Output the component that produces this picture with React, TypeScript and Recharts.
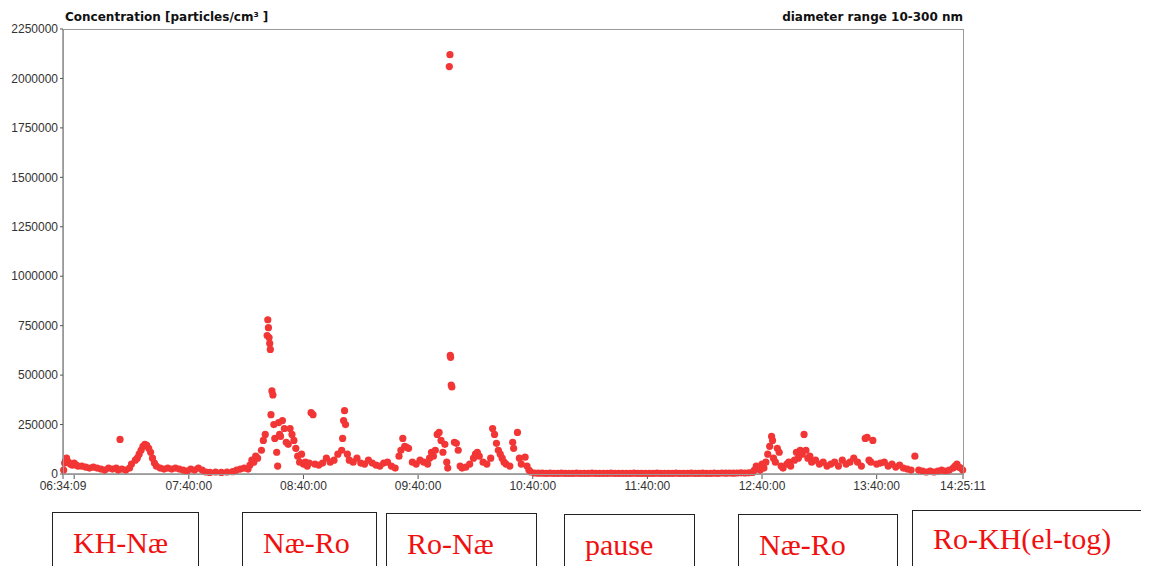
import React from "react";
import { ScatterChart, Scatter, XAxis, YAxis } from "recharts";

// [time, concentration in thousands particles/cm3]
const khToNae: [string, number][] = [
  ["06:34:30", 20], ["06:35", 55], ["06:35:30", 65], ["06:36", 80], ["06:37", 60], ["06:38", 50], ["06:39", 45],
  ["06:40", 55], ["06:41", 45], ["06:42", 40], ["06:44", 40], ["06:46", 35], ["06:48", 30], ["06:50", 35],
  ["06:52", 30], ["06:54", 25], ["06:56", 20], ["06:58", 30], ["07:00", 25], ["07:02", 30], ["07:03", 20],
  ["07:04", 175], ["07:05", 25], ["07:07", 20], ["07:09", 30], ["07:10", 50], ["07:12", 70], ["07:13", 80],
  ["07:14", 100], ["07:15", 120], ["07:16", 140], ["07:17", 150], ["07:18", 145], ["07:19", 130], ["07:20", 110],
  ["07:21", 80], ["07:22", 55], ["07:23", 40], ["07:25", 30], ["07:27", 25], ["07:29", 30], ["07:31", 25],
  ["07:33", 30], ["07:35", 25], ["07:37", 20], ["07:39", 15], ["07:41", 25], ["07:43", 20], ["07:45", 30],
  ["07:47", 20], ["07:49", 10],
];

const naeToRo1: [string, number][] = [
  ["07:51", 8], ["07:54", 10], ["07:57", 8], ["08:00", 10], ["08:03", 12], ["08:05", 20], ["08:07", 25],
  ["08:09", 30], ["08:11", 25], ["08:12", 45], ["08:13", 70], ["08:14", 60], ["08:15", 90], ["08:16", 80],
  ["08:18", 120], ["08:19", 170], ["08:20", 200], ["08:21", 700], ["08:21:20", 780], ["08:21:40", 740],
  ["08:22", 690], ["08:22:20", 660], ["08:22:40", 630], ["08:23", 300], ["08:23:30", 420], ["08:24", 400],
  ["08:24:30", 250], ["08:25", 180], ["08:26", 110], ["08:26:30", 40], ["08:27", 260], ["08:27:30", 200],
  ["08:28", 190], ["08:29", 270], ["08:30", 230], ["08:31", 160], ["08:32", 150], ["08:33", 230], ["08:34", 200],
  ["08:35", 170], ["08:36", 130], ["08:37", 90], ["08:38", 60], ["08:39", 100], ["08:40", 50],
  ["08:41", 60], ["08:42", 40], ["08:43", 55], ["08:44", 310], ["08:45", 300], ["08:46", 50], ["08:48", 45],
  ["08:50", 55], ["08:52", 80], ["08:54", 60], ["08:56", 70], ["08:58", 100], ["09:00", 120], ["09:00:30", 180],
  ["09:01", 270], ["09:01:30", 320], ["09:02", 250], ["09:03", 100], ["09:04", 70], ["09:06", 60], ["09:08", 80],
  ["09:10", 55], ["09:12", 50], ["09:14", 70], ["09:16", 55], ["09:18", 45], ["09:20", 40],
];

const roToNae: [string, number][] = [
  ["09:22", 55], ["09:24", 60], ["09:26", 40], ["09:28", 30], ["09:30", 90], ["09:31", 120], ["09:32", 180],
  ["09:33", 140], ["09:34", 135], ["09:35", 130], ["09:37", 60], ["09:39", 50], ["09:41", 70], ["09:43", 60],
  ["09:45", 50], ["09:46", 80], ["09:47", 110], ["09:48", 90], ["09:49", 120], ["09:50", 200], ["09:51", 210],
  ["09:52", 170], ["09:53", 110], ["09:54", 150], ["09:55", 60], ["09:55:30", 30], ["09:56:20", 2060],
  ["09:56:40", 2120], ["09:56:50", 600], ["09:57", 590], ["09:57:20", 450], ["09:57:40", 440], ["09:59", 160],
  ["10:00", 155], ["10:01", 120], ["10:02", 40], ["10:03", 30], ["10:05", 35], ["10:07", 50], ["10:09", 80],
  ["10:10", 100], ["10:11", 110], ["10:12", 90], ["10:14", 60], ["10:16", 50], ["10:18", 80], ["10:19", 230],
  ["10:20", 200], ["10:21", 155], ["10:22", 120], ["10:23", 100], ["10:24", 80], ["10:25", 60], ["10:26", 50],
  ["10:28", 40], ["10:29:30", 160], ["10:30", 130], ["10:32", 210], ["10:33", 80], ["10:34", 50], ["10:36", 85],
  ["10:37", 40], ["10:38", 20], ["10:39", 10],
];

const pause: [string, number][] = [
  ["10:41", 5], ["10:43", 4], ["10:45", 4], ["10:47", 3], ["10:49", 4], ["10:51", 3], ["10:53", 3], ["10:55", 4],
  ["10:57", 3], ["10:59", 3], ["11:01", 3], ["11:03", 4], ["11:05", 3], ["11:07", 3], ["11:09", 3], ["11:11", 4],
  ["11:13", 3], ["11:15", 3], ["11:17", 3], ["11:19", 3], ["11:21", 4], ["11:23", 3], ["11:25", 3], ["11:27", 3],
  ["11:29", 3], ["11:31", 3], ["11:33", 4], ["11:35", 3], ["11:37", 3], ["11:39", 3], ["11:41", 3], ["11:43", 3],
  ["11:45", 4], ["11:47", 3], ["11:49", 3], ["11:51", 3], ["11:53", 3], ["11:55", 4], ["11:57", 3], ["11:59", 3],
  ["12:01", 3], ["12:03", 4], ["12:05", 3], ["12:07", 3], ["12:09", 4], ["12:11", 3], ["12:13", 3], ["12:15", 4],
  ["12:17", 3], ["12:19", 5], ["12:21", 4], ["12:23", 5], ["12:25", 4], ["12:27", 5], ["12:29", 6], ["12:31", 5],
  ["12:33", 6], ["12:35", 8],
];

const naeToRo2: [string, number][] = [
  ["12:36", 20], ["12:37", 40], ["12:38", 30], ["12:39", 20], ["12:40", 50], ["12:41", 30], ["12:42", 60],
  ["12:43", 100], ["12:44", 140], ["12:45", 190], ["12:45:30", 170], ["12:46", 80], ["12:47", 60], ["12:48", 130],
  ["12:49", 110], ["12:50", 40], ["12:51", 30], ["12:53", 50], ["12:54", 60], ["12:55", 40], ["12:57", 70],
  ["12:58", 110], ["12:59", 80], ["13:00", 120], ["13:01", 100], ["13:02", 200], ["13:03", 120], ["13:04", 80],
  ["13:05", 90], ["13:06", 60], ["13:08", 70], ["13:10", 50], ["13:12", 60], ["13:14", 40], ["13:16", 50],
  ["13:18", 60], ["13:20", 40], ["13:22", 70], ["13:24", 50], ["13:26", 60], ["13:28", 80], ["13:30", 60],
];

const roToKh: [string, number][] = [
  ["13:32", 40], ["13:34", 180], ["13:35", 185], ["13:36", 70], ["13:37", 60], ["13:38", 170], ["13:40", 50],
  ["13:42", 55], ["13:44", 60], ["13:46", 40], ["13:48", 50], ["13:50", 35], ["13:52", 45], ["13:54", 30],
  ["13:56", 25], ["13:58", 20], ["14:00", 90], ["14:02", 20], ["14:04", 15], ["14:06", 10], ["14:08", 15],
  ["14:10", 10], ["14:12", 15], ["14:14", 20], ["14:16", 15], ["14:18", 20], ["14:20", 30], ["14:21", 40],
  ["14:22", 50], ["14:23", 35], ["14:24", 30], ["14:25", 20],
];

const xTickLabels = ["06:34:09", "06:40:00", "07:40:00", "08:40:00", "09:40:00", "10:40:00", "11:40:00", "12:40:00", "13:40:00", "14:25:11"];
const yTicks = [0, 250000, 500000, 750000, 1000000, 1250000, 1500000, 1750000, 2000000, 2250000];
const legs = ["KH-Næ", "Næ-Ro", "Ro-Næ", "pause", "Næ-Ro", "Ro-KH(el-tog)"];

const toSec = (t: string) => {
  const [h, m, s] = t.split(":").map(Number);
  return h * 3600 + m * 60 + (s || 0);
};
const pad = (n: number) => String(n).padStart(2, "0");
const fmt = (v: number) => {
  if (v === toSec("06:40:00")) return "";
  return `${pad(Math.floor(v / 3600))}:${pad(Math.floor((v % 3600) / 60))}:${pad(v % 60)}`;
};

const data = [...khToNae, ...naeToRo1, ...roToNae, ...pause, ...naeToRo2, ...roToKh].map(([t, v]) => ({
  x: toSec(t.length === 5 ? t + ":00" : t),
  y: v * 1000,
}));

const boxes = [
  { left: 52, width: 147, top: 512 },
  { left: 242, width: 135, top: 512 },
  { left: 386, width: 151, top: 513 },
  { left: 564, width: 131, top: 514 },
  { left: 738, width: 160, top: 514 },
  { left: 912, width: 240, top: 510 },
];

const Dot = (p: any) => <circle cx={p.cx} cy={p.cy} r={3.6} fill="#f23535" />;

export default function App() {
  const font = "Tahoma, 'DejaVu Sans', sans-serif";
  const tickFont = "'Liberation Sans', Arial, sans-serif";
  return (
    <div style={{ position: "relative", width: 1149, height: 574, margin: -8, background: "#fff", overflow: "hidden" }}>
      <div style={{ position: "absolute", left: 65, top: 10, fontFamily: font, fontSize: 12, fontWeight: 700, color: "#111" }}>
        Concentration [particles/cm³ ]
      </div>
      <div style={{ position: "absolute", right: 186, top: 10, fontFamily: font, fontSize: 12, fontWeight: 700, color: "#111" }}>
        diameter range 10-300 nm
      </div>
      <ScatterChart width={1149} height={500} margin={{ top: 29, right: 186, left: 0, bottom: 0 }}>
        <XAxis
          type="number"
          dataKey="x"
          domain={[toSec("06:34:09"), toSec("14:25:11")]}
          ticks={xTickLabels.map(toSec)}
          tickFormatter={fmt}
          height={26}
          tickSize={5}
          stroke="#555"
          tick={{ fill: "#333", fontSize: 12, fontFamily: tickFont }}
          interval={0}
        />
        <YAxis
          type="number"
          dataKey="y"
          domain={[0, 2250000]}
          ticks={yTicks}
          width={63}
          tickSize={3}
          stroke="#555"
          tick={{ fill: "#333", fontSize: 12, fontFamily: tickFont }}
          interval={0}
        />
        <Scatter data={data} shape={<Dot />} isAnimationActive={false} />
      </ScatterChart>
      <div style={{ position: "absolute", left: 63, top: 29, width: 899, height: 444, border: "1px solid #999", pointerEvents: "none" }} />
      {boxes.map((b, i) => (
        <div
          key={i}
          style={{
            position: "absolute",
            left: b.left,
            top: b.top,
            width: b.width,
            height: 80,
            border: "1px solid #222",
            boxSizing: "border-box",
            fontFamily: "'Liberation Serif', 'Times New Roman', serif",
            fontSize: 30,
            color: "#f01010",
            paddingLeft: 20,
            paddingTop: i === 5 ? 11 : 13,
          }}
        >
          {legs[i]}
        </div>
      ))}
    </div>
  );
}
